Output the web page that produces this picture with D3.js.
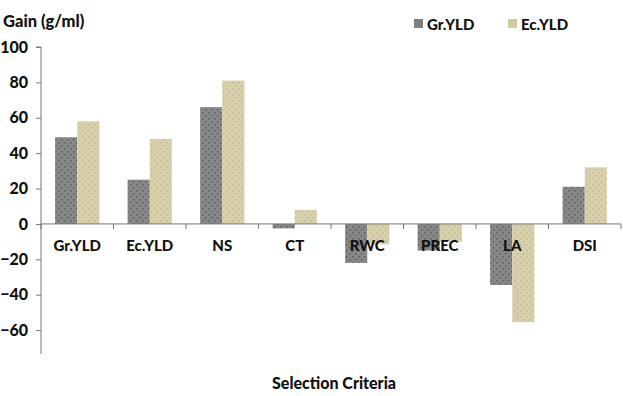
<!DOCTYPE html>
<html><head><meta charset="utf-8">
<script src="https://cdn.jsdelivr.net/npm/d3@7"></script>
<style>body{margin:0;background:#fff}svg{display:block}text{font-family:Lato,"Open Sans",sans-serif;font-weight:bold;fill:#111}</style>
</head><body><svg id="c" width="623" height="396"></svg>
<script>
const categories = ["Gr.YLD","Ec.YLD","NS","CT","RWC","PREC","LA","DSI"];
const seriesNames = ["Gr.YLD","Ec.YLD"];
const grYLD = [49, 25, 66, -2.5, -22, -15, -34.5, 21];
const ecYLD = [58, 48, 81, 8, -11.5, -10, -55.5, 32];
const yTicks = [100, 80, 60, 40, 20, 0, -20, -40, -60];

const svg = d3.select("#c");
const defs = svg.append("defs");
function pat(id, bg, dot){
  const p = defs.append("pattern").attr("id", id).attr("width", 6).attr("height", 6).attr("patternUnits","userSpaceOnUse");
  p.append("rect").attr("width",6).attr("height",6).attr("fill",bg);
  p.append("rect").attr("x",1).attr("y",1).attr("width",1.5).attr("height",1.5).attr("fill",dot);
  p.append("rect").attr("x",4).attr("y",4).attr("width",1.5).attr("height",1.5).attr("fill",dot);
}
pat("pg", "#878787", "#5e5e5e");
pat("pb", "#d8d0aa", "#c4ba90");
const fills = ["url(#pg)", "url(#pb)"];

const left = 41, right = 621;
const y = d3.scaleLinear().domain([-73.5, 100]).range([354, 47]);
const x = d3.scaleBand().domain(categories).range([left, right]).paddingInner(0.39).paddingOuter(0.195);
const xs = d3.scaleBand().domain(seriesNames).range([0, x.bandwidth()]);

const data = [grYLD, ecYLD];
data.forEach((vals, si) => {
  svg.append("g").selectAll("rect").data(vals).join("rect")
    .attr("x", (d,i) => x(categories[i]) + xs(seriesNames[si]))
    .attr("width", xs.bandwidth())
    .attr("y", d => y(Math.max(0,d)))
    .attr("height", d => Math.abs(y(d) - y(0)))
    .attr("fill", fills[si]);
});

// y axis
const ya = svg.append("g").attr("transform", `translate(${left},0)`)
  .call(d3.axisLeft(y).tickValues(yTicks).tickSize(5).tickPadding(8).tickFormat(d3.format("d")));
ya.select(".domain").attr("stroke","#777").attr("d", `M-5,${y(100)}H0V${y(-73.5)}`);
ya.selectAll(".tick line").attr("stroke","#777");
ya.selectAll(".tick text").style("font-size","16px").style("font-weight","900").attr("fill","#111").style("font-family","Lato, sans-serif");

// zero line with category ticks
const step = (right-left)/categories.length;
svg.append("line").attr("x1",left).attr("x2",right).attr("y1",y(0)).attr("y2",y(0)).attr("stroke","#777");
svg.append("g").selectAll("line").data(d3.range(categories.length+1)).join("line")
  .attr("x1", i => left + i*step).attr("x2", i => left + i*step)
  .attr("y1", y(0)).attr("y2", y(0)+5).attr("stroke","#777");

// category labels
svg.append("g").selectAll("text").data(categories).join("text")
  .attr("x", d => x(d) + x.bandwidth()/2)
  .attr("y", y(0) + 27)
  .attr("text-anchor","middle")
  .style("font-size","15px")
  .style("font-weight","900")
  .text(d => d);

// title
svg.append("text").attr("x",3).attr("y",27).style("font-size","16.5px").style("font-weight","900").text("Gain (g/ml)");
svg.append("text").attr("x",334).attr("y",389).attr("text-anchor","middle").style("font-size","16px").style("font-weight","900").text("Selection Criteria");

// legend
const leg = [{n:"Gr.YLD", x:414},{n:"Ec.YLD", x:508}];
leg.forEach((l,i) => {
  svg.append("rect").attr("x",l.x).attr("y",19).attr("width",9).attr("height",9).attr("fill",i?"#d2c9a0":"#7e7e7e");
  svg.append("text").attr("x",l.x+13).attr("y",30).style("font-size","15px").style("font-weight","900").text(l.n);
});
</script></body></html>
